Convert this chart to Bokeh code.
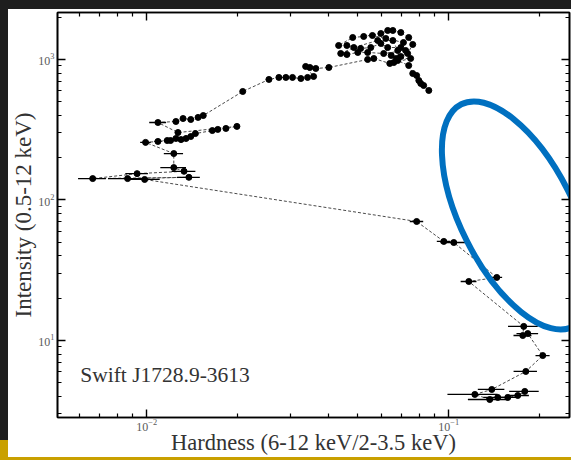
import numpy as np
from bokeh.plotting import figure
from bokeh.models import (ColumnDataSource, FixedTicker, LogAxis,
                          CustomJSTickFormatter, Spacer)
from bokeh.layouts import column, row
from bokeh.core.properties import value
from bokeh.embed import file_html
from bokeh.resources import INLINE

# Hardness-intensity track of Swift J1728.9-3613, in time order
hardness = [
    0.0859, 0.0826, 0.0808, 0.0796, 0.0783, 0.0760, 0.0737,
    0.0678, 0.0658, 0.0694, 0.0731, 0.0760, 0.0737, 0.0694, 0.0653, 0.0628,
    0.0596, 0.0523, 0.0481, 0.0432, 0.0460, 0.0511, 0.0552, 0.0596, 0.0628,
    0.0694, 0.0720, 0.0609, 0.0539, 0.0500, 0.0460, 0.0439, 0.0485, 0.0582,
    0.0653, 0.0678, 0.0645,
    0.0559, 0.0619, 0.0708, 0.0670, 0.0748, 0.0638,
    0.0565, 0.0539,
    0.0401, 0.0363, 0.0347, 0.0336, 0.0357, 0.0341, 0.0324, 0.0304, 0.0289,
    0.0274, 0.0254, 0.0208,
    0.0154, 0.0148, 0.0140, 0.0132, 0.0125, 0.0109,
    0.0127, 0.0199, 0.0183, 0.0172, 0.0165, 0.0145, 0.0140, 0.0135, 0.0130,
    0.0125, 0.0120, 0.0117, 0.0109, 0.00992,
    0.0123, 0.0123, 0.0133, 0.0093, 0.00663, 0.0138, 0.00865, 0.00985,
    0.0783, 0.0963, 0.1039, 0.1442, 0.1165,
    0.1771, 0.1758, 0.1826, 0.2047, 0.1799, 0.1388, 0.1220, 0.1367,
    0.1453, 0.1568, 0.1692, 0.1785,
]
intensity = [
    602, 653, 675, 709, 769, 795, 906,
    984, 952, 1050, 1103, 1279, 1434, 1556, 1609, 1609,
    1531, 1458, 1434, 1258, 1258, 1198, 1217, 1300, 1217,
    1217, 1159, 1103, 1122, 1122, 1085, 1103, 1217, 1365,
    1365, 1159, 1068,
    1482, 1411, 1321, 1016, 1016, 937,
    1016, 1000,
    877, 863, 877, 892, 757, 745, 732, 745, 745,
    745, 721, 592,
    399, 387, 374, 380, 362, 356,
    302, 334, 323, 318, 312, 297, 283, 274, 269,
    274, 265, 265, 261, 257,
    214, 170, 160, 154, 142, 145, 142, 140,
    70.3, 50.7, 49.8, 28.1, 26.3,
    12.6, 10.85, 11.2, 7.81, 6.02, 4.48, 4.13, 3.80,
    3.93, 3.93, 4.06, 4.34,
]
hardness_err = [
    0.0008, 0.0008, 0.0008, 0.0008, 0.0008, 0.0008, 0.0008,
    0.0008, 0.0008, 0.0008, 0.0008, 0.0008, 0.0008, 0.0008, 0.0008, 0.0008,
    0.0008, 0.0008, 0.0008, 0.0008, 0.0008, 0.0008, 0.0008, 0.0008, 0.0008,
    0.0008, 0.0008, 0.0008, 0.0008, 0.0008, 0.0008, 0.0008, 0.0008, 0.0008,
    0.0008, 0.0008, 0.0008,
    0.0008, 0.0008, 0.0008, 0.0008, 0.0008, 0.0008,
    0.0008, 0.0008,
    0.0006, 0.0006, 0.0006, 0.0006, 0.0006, 0.0006, 0.0006, 0.0006, 0.0006,
    0.0006, 0.0006, 0.0004,
    0.0003, 0.0003, 0.0003, 0.0003, 0.0003, 0.0007,
    0.0003, 0.0004, 0.0004, 0.0004, 0.0004, 0.0003, 0.0003, 0.0003, 0.0003,
    0.0003, 0.0003, 0.0003, 0.0003, 0.0004,
    0.0009, 0.0012, 0.0012, 0.0008, 0.0007, 0.0012, 0.0012, 0.0012,
    0.004, 0.005, 0.010, 0.006, 0.007,
    0.020, 0.012, 0.015, 0.011, 0.016, 0.014, 0.023, 0.021,
    0.015, 0.015, 0.015, 0.020,
]

source_name = "Swift J1728.9-3613"
x_label = "Hardness (6-12 keV/2-3.5 keV)"
y_label = "Intensity (0.5-12 keV)"

# Highlighted region of the diagram (centre in data units, size in pixels)
mark_x, mark_y = 0.1686, 77.6
mark_w, mark_h, mark_angle = 249, 113, -1.104

x = np.array(hardness)
y = np.array(intensity)
dx = np.array(hardness_err)
src = ColumnDataSource(dict(x=x, y=y, lo=x - dx, hi=x + dx))

SERIF = "Liberation Serif"
W, H = 563, 448

p = figure(width=W, height=H, x_axis_type="log", y_axis_type="log",
           x_range=(0.00507, 0.251), y_range=(2.83, 2160),
           output_backend="svg", toolbar_location=None,
           min_border_left=49, min_border_right=2, min_border_top=3,
           min_border_bottom=40)
p.background_fill_color = "white"
p.border_fill_color = "white"
p.grid.visible = False
p.outline_line_color = "black"
p.outline_line_width = 1.6

x_ticks = FixedTicker(ticks=[0.01, 0.1],
                      minor_ticks=[k * 10.0 ** e for e in (-3, -2, -1) for k in range(2, 10)])
y_ticks = FixedTicker(ticks=[10, 100, 1000],
                      minor_ticks=[k * 10.0 ** e for e in (0, 1, 2, 3) for k in range(2, 10)])


def style_axis(ax):
    ax.axis_line_color = "black"
    ax.axis_line_width = 1.6
    ax.major_tick_in = 8
    ax.major_tick_out = 0
    ax.minor_tick_in = 4
    ax.minor_tick_out = 0
    ax.major_tick_line_width = 1.4
    ax.minor_tick_line_width = 1.2
    ax.major_tick_line_color = "black"
    ax.minor_tick_line_color = "black"
    ax.major_label_text_font = SERIF
    ax.major_label_text_font_size = "12px"
    ax.major_label_text_color = "#5a5a5a"
    ax.major_label_standoff = 4
    ax.axis_label_text_font = SERIF
    ax.axis_label_text_font_style = "normal"
    ax.axis_label_text_color = "#333333"


p.xaxis.ticker = x_ticks
p.yaxis.ticker = y_ticks
style_axis(p.xaxis[0])
style_axis(p.yaxis[0])
p.xaxis.axis_label = x_label
p.yaxis.axis_label = y_label
p.xaxis.axis_label_text_font_size = "22.5px"
p.yaxis.axis_label_text_font_size = "23px"
p.xaxis.major_label_standoff = 1
p.xaxis.axis_label_standoff = -4
p.yaxis.major_label_standoff = 3
p.yaxis.axis_label_standoff = -1

# Mirrored tick marks on the top and right edges, without labels
blank = CustomJSTickFormatter(code="return '';")
top_axis = LogAxis(ticker=x_ticks, formatter=blank)
right_axis = LogAxis(ticker=y_ticks, formatter=blank)
for ax in (top_axis, right_axis):
    style_axis(ax)
    ax.major_label_standoff = 0
p.add_layout(top_axis, "above")
p.add_layout(right_axis, "right")

# Track, error bars and points
p.line("x", "y", source=src, line_color="#4a4a4a", line_width=1, line_dash="3 2")
p.segment(x0="lo", x1="hi", y0="y", y1="y", source=src, line_color="black",
          line_width=1.3)
p.scatter("x", "y", source=src, size=6, fill_color="black", line_color="black")

p.text(x=[0.00603], y=[5.7], text=[source_name], text_font=value(SERIF),
       text_font_size="21.5px", text_color="#333333", text_baseline="middle",
       text_align="left")

p.ellipse(x=[mark_x], y=[mark_y], width=mark_w, height=mark_h,
          width_units="screen", height_units="screen", angle=mark_angle,
          fill_color=None, line_color="#0070C0", line_width=6)

DARK = "#1e1e1e"
GOLD = "#c9a000"
top_band = Spacer(width=571, height=9, styles={"background-color": DARK})
left_band = column(Spacer(width=8, height=431, styles={"background-color": DARK}),
                   Spacer(width=8, height=17, styles={"background-color": GOLD}))
bottom_band = Spacer(width=571, height=3, styles={"background-color": GOLD})
page = column(top_band, row(left_band, p), bottom_band)

open("out.html", "w").write(file_html(page, INLINE))
